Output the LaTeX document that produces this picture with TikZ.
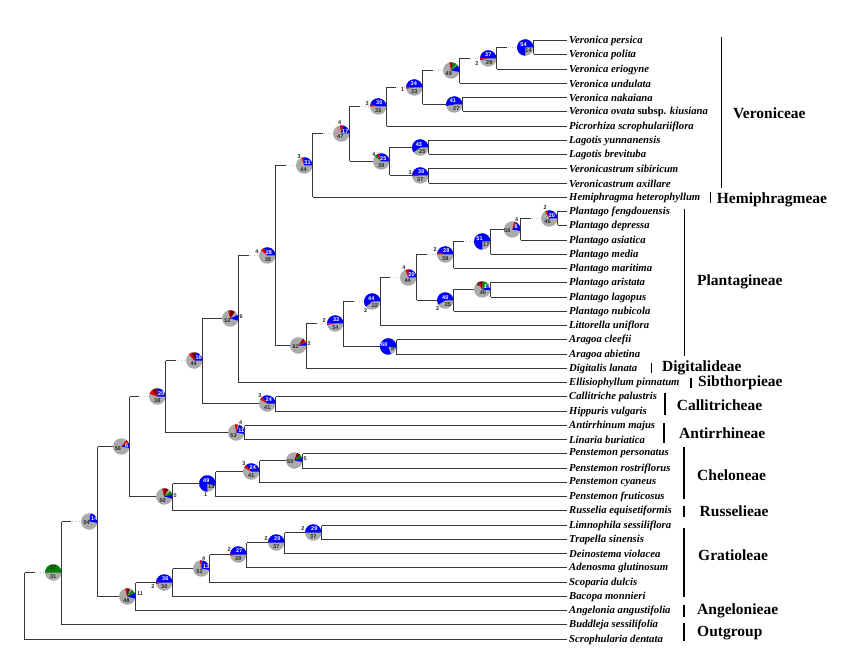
\documentclass[tikz,border=0pt]{standalone}
\usepackage{fontspec}
\setmainfont{Liberation Serif}
\newfontfamily\numfont{Liberation Sans}
\usetikzlibrary{calc}
\definecolor{pblue}{RGB}{0,0,255}
\definecolor{pgray}{RGB}{170,170,170}
\definecolor{pred}{RGB}{225,0,0}
\definecolor{pdred}{RGB}{120,0,0}
\definecolor{pgreen}{RGB}{0,128,0}
\definecolor{plime}{RGB}{40,190,40}
\definecolor{linec}{RGB}{55,55,55}
\tikzset{
 branch/.style={draw=linec, line width=1.4pt},
 dotline/.style={draw=gray!50, line width=1.3pt, dash pattern=on 1.2pt off 2.4pt},
 pienode/.style={circle, fill=pgray, minimum size=16.5pt, inner sep=0pt, outer sep=0pt},
 leaf/.style={anchor=west, inner sep=0pt, font=\fontsize{10.7}{12}\selectfont\bfseries\itshape},
 clade/.style={anchor=west, inner sep=0pt, font=\fontsize{15.5}{17}\selectfont\bfseries},
 cbar/.style={draw=black, line width=1.5pt},
 wnum/.style={inner sep=0pt, text=white, font=\numfont\fontsize{5.5}{6}\selectfont\bfseries},
 gnum/.style={inner sep=0pt, text=black!85, font=\numfont\fontsize{5.5}{6}\selectfont\bfseries},
}
\newcommand\treenode[3]{\coordinate (#1) at (#2,#3); \node[pienode] (#1p) at (#2-8.25,#3) {};}
\newcommand\psect[4]{\fill[#2] (#1p.center) -- ++(#3:8.25pt) arc[start angle=#3, end angle=#4, radius=8.25pt] -- cycle;}
\newcommand\pielabel[5]{\node[#2] (#1-#5) at ($(#1p.center)+(#3,#4)$) {#5};}
\newcommand\sedge[2]{\draw[branch] (#1 |- #2p) -- (#2p.west);}
\newcommand\dedge[2]{\draw[branch] (#1 |- #2p) -- ($(#2p.west)+(-10,0)$); \draw[dotline] ($(#2p.west)+(-9,0)$) -- (#2p.west);}
\newcommand\ledge[2]{\draw[branch] (#1 |- #2) -- ($(#2.west)+(-2.5,0)$);}
\newcommand\treevert[3]{\draw[branch] (#1 |- #2) -- (#1 |- #3);}
\begin{document}
\begin{tikzpicture}[x=1pt,y=-1pt]
\fill[white] (0,0) rectangle (862,652);
\useasboundingbox (0,0) rectangle (862,652);
% leaves
\node[leaf] (t0) at (569,40.5) {Veronica persica};
\node[leaf] (t1) at (569,54.5) {Veronica polita};
\node[leaf] (t2) at (569,69.5) {Veronica eriogyne};
\node[leaf] (t3) at (569,83.5) {Veronica undulata};
\node[leaf] (t4) at (569,97.5) {Veronica nakaiana};
\node[leaf] (t5) at (569,111.5) {Veronica ovata {\upshape subsp.} kiusiana};
\node[leaf] (t6) at (569,126.5) {Picrorhiza scrophulariiflora};
\node[leaf] (t7) at (569,140.5) {Lagotis yunnanensis};
\node[leaf] (t8) at (569,154.5) {Lagotis brevituba};
\node[leaf] (t9) at (569,168.5) {Veronicastrum sibiricum};
\node[leaf] (t10) at (569,183.5) {Veronicastrum axillare};
\node[leaf] (t11) at (569,197.5) {Hemiphragma heterophyllum};
\node[leaf] (t12) at (569,211.5) {Plantago fengdouensis};
\node[leaf] (t13) at (569,225.5) {Plantago depressa};
\node[leaf] (t14) at (569,240.5) {Plantago asiatica};
\node[leaf] (t15) at (569,254.5) {Plantago media};
\node[leaf] (t16) at (569,268.5) {Plantago maritima};
\node[leaf] (t17) at (569,282.5) {Plantago aristata};
\node[leaf] (t18) at (569,297.5) {Plantago lagopus};
\node[leaf] (t19) at (569,311.5) {Plantago nubicola};
\node[leaf] (t20) at (569,325.5) {Littorella uniflora};
\node[leaf] (t21) at (569,339.5) {Aragoa cleefii};
\node[leaf] (t22) at (569,354.5) {Aragoa abietina};
\node[leaf] (t23) at (569,368.5) {Digitalis lanata};
\node[leaf] (t24) at (569,382.5) {Ellisiophyllum pinnatum};
\node[leaf] (t25) at (569,396.5) {Callitriche palustris};
\node[leaf] (t26) at (569,411.5) {Hippuris vulgaris};
\node[leaf] (t27) at (569,425.5) {Antirrhinum majus};
\node[leaf] (t28) at (569,439.5) {Linaria buriatica};
\node[leaf] (t29) at (569,453.5) {Penstemon personatus};
\node[leaf] (t30) at (569,468.5) {Penstemon rostriflorus};
\node[leaf] (t31) at (569,482.5) {Penstemon cyaneus};
\node[leaf] (t32) at (569,496.5) {Penstemon fruticosus};
\node[leaf] (t33) at (569,510.5) {Russelia equisetiformis};
\node[leaf] (t34) at (569,525.5) {Limnophila sessiliflora};
\node[leaf] (t35) at (569,539.5) {Trapella sinensis};
\node[leaf] (t36) at (569,553.5) {Deinostema violacea};
\node[leaf] (t37) at (569,567.5) {Adenosma glutinosum};
\node[leaf] (t38) at (569,582.5) {Scoparia dulcis};
\node[leaf] (t39) at (569,596.5) {Bacopa monnieri};
\node[leaf] (t40) at (569,610.5) {Angelonia angustifolia};
\node[leaf] (t41) at (569,624.5) {Buddleja sessilifolia};
\node[leaf] (t42) at (569,639.5) {Scrophularia dentata};
% internal nodes
\treenode{A}{533.5}{47.5}
\treenode{B}{496.5}{58.5}
\treenode{C}{459.5}{70.5}
\treenode{D}{462.5}{104.5}
\treenode{E}{422.5}{87.5}
\treenode{F}{386.5}{106.5}
\treenode{G}{428.5}{147.5}
\treenode{H}{428.5}{175.5}
\treenode{I}{389.5}{161.5}
\treenode{J}{349.5}{133.5}
\treenode{K}{312.5}{165.5}
\treenode{W}{557.5}{218.5}
\treenode{V}{520.5}{229.5}
\treenode{T}{490.5}{241.5}
\treenode{R}{453.5}{254.5}
\treenode{U}{490.5}{289.5}
\treenode{S}{453.5}{300.5}
\treenode{Q}{416.5}{277.5}
\treenode{O}{380.5}{301.5}
\treenode{P}{396.5}{346.5}
\treenode{N}{343.5}{323.5}
\treenode{M}{306.5}{345.5}
\treenode{L}{275.5}{255.5}
\treenode{X}{238.5}{318.5}
\treenode{Y}{275.5}{403.5}
\treenode{Z}{202.5}{360.5}
\treenode{AB}{244.5}{432.5}
\treenode{AA}{165.5}{396.5}
\treenode{AG}{302.5}{460.5}
\treenode{AF}{259.5}{471.5}
\treenode{AE}{215.5}{483.5}
\treenode{AD}{172.5}{496.5}
\treenode{AC}{129.5}{446.5}
\treenode{AO}{321.5}{532.5}
\treenode{AN}{284.5}{542.5}
\treenode{AM}{246.5}{554.5}
\treenode{AL}{209.5}{568.5}
\treenode{AK}{172.5}{582.5}
\treenode{AI}{135.5}{596.5}
\treenode{AH}{97.5}{521.5}
\treenode{AJ}{61.5}{572.5}
\coordinate (root) at (24.5,600);
% verticals
\treevert{A}{t0}{t1}
\treevert{B}{A}{t2}
\treevert{C}{B}{t3}
\treevert{D}{t4}{t5}
\treevert{E}{C}{D}
\treevert{F}{E}{t6}
\treevert{G}{t7}{t8}
\treevert{H}{t9}{t10}
\treevert{I}{G}{H}
\treevert{J}{F}{I}
\treevert{K}{J}{t11}
\treevert{W}{t12}{t13}
\treevert{V}{W}{t14}
\treevert{T}{V}{t15}
\treevert{R}{T}{t16}
\treevert{U}{t17}{t18}
\treevert{S}{U}{t19}
\treevert{Q}{R}{S}
\treevert{O}{Q}{t20}
\treevert{P}{t21}{t22}
\treevert{N}{O}{P}
\treevert{M}{N}{t23}
\treevert{L}{K}{M}
\treevert{X}{L}{t24}
\treevert{Y}{t25}{t26}
\treevert{Z}{X}{Y}
\treevert{AB}{t27}{t28}
\treevert{AA}{Z}{AB}
\treevert{AG}{t29}{t30}
\treevert{AF}{AG}{t31}
\treevert{AE}{AF}{t32}
\treevert{AD}{AE}{t33}
\treevert{AC}{AA}{AD}
\treevert{AO}{t34}{t35}
\treevert{AN}{AO}{t36}
\treevert{AM}{AN}{t37}
\treevert{AL}{AM}{t38}
\treevert{AK}{AL}{t39}
\treevert{AI}{AK}{t40}
\treevert{AH}{AC}{AI}
\treevert{AJ}{AH}{t41}
\treevert{root}{AJ}{t42}
% internal edges
\dedge{B}{A} \dedge{C}{B} \dedge{E}{C} \sedge{E}{D} \dedge{F}{E} \dedge{J}{F}
\sedge{I}{G} \sedge{I}{H} \sedge{J}{I} \dedge{K}{J} \dedge{L}{K}
\dedge{X}{L} \sedge{L}{M} \dedge{M}{N} \dedge{N}{O} \sedge{N}{P} \dedge{O}{Q}
\dedge{Q}{R} \sedge{Q}{S} \dedge{R}{T} \sedge{S}{U} \sedge{T}{V} \dedge{V}{W}
\sedge{Z}{X} \sedge{Z}{Y} \dedge{AA}{Z} \sedge{AA}{AB} \dedge{AC}{AA}
\sedge{AC}{AD} \sedge{AD}{AE} \sedge{AE}{AF} \sedge{AF}{AG}
\sedge{AH}{AC} \sedge{AH}{AI} \dedge{AJ}{AH} \sedge{AI}{AK} \sedge{AK}{AL}
\sedge{AL}{AM} \sedge{AM}{AN} \sedge{AN}{AO} \dedge{root}{AJ}
% leaf edges
\ledge{A}{t0} \ledge{A}{t1} \ledge{B}{t2} \ledge{C}{t3} \ledge{D}{t4} \ledge{D}{t5}
\ledge{F}{t6} \ledge{G}{t7} \ledge{G}{t8} \ledge{H}{t9} \ledge{H}{t10} \ledge{K}{t11}
\ledge{W}{t12} \ledge{W}{t13} \ledge{V}{t14} \ledge{T}{t15} \ledge{R}{t16}
\ledge{U}{t17} \ledge{U}{t18} \ledge{S}{t19} \ledge{O}{t20} \ledge{P}{t21} \ledge{P}{t22}
\ledge{M}{t23} \ledge{X}{t24} \ledge{Y}{t25} \ledge{Y}{t26} \ledge{AB}{t27} \ledge{AB}{t28}
\ledge{AG}{t29} \ledge{AG}{t30} \ledge{AF}{t31} \ledge{AE}{t32} \ledge{AD}{t33}
\ledge{AO}{t34} \ledge{AO}{t35} \ledge{AN}{t36} \ledge{AM}{t37} \ledge{AL}{t38}
\ledge{AK}{t39} \ledge{AI}{t40} \ledge{AJ}{t41} \ledge{root}{t42}
% pie sectors
\psect{A}{pblue}{0}{270}
\psect{B}{pblue}{0}{180} \psect{B}{pred}{180}{192}
\psect{C}{pblue}{-10}{40} \psect{C}{plime}{40}{55} \psect{C}{pgreen}{55}{82} \psect{C}{pdred}{82}{92} \psect{C}{pred}{92}{105}
\psect{D}{pblue}{0}{190}
\psect{E}{pblue}{0}{180} \psect{E}{pred}{180}{188}
\psect{F}{pblue}{0}{165} \psect{F}{pred}{165}{180}
\psect{G}{pblue}{0}{215}
\psect{H}{pblue}{0}{175} \psect{H}{pred}{175}{185}
\psect{I}{pblue}{0}{110} \psect{I}{pred}{110}{125} \psect{I}{pgreen}{125}{140}
\psect{J}{pblue}{0}{75} \psect{J}{pred}{75}{100}
\psect{K}{pblue}{0}{95} \psect{K}{pred}{95}{110}
\psect{L}{pblue}{0}{115} \psect{L}{pred}{115}{140}
\psect{M}{pblue}{0}{20} \psect{M}{pred}{20}{40} \psect{M}{pdred}{40}{55}
\psect{N}{pblue}{0}{180} \psect{N}{pred}{180}{190}
\psect{O}{pblue}{0}{220}
\psect{P}{pblue}{-10}{290}
\psect{Q}{pblue}{0}{85} \psect{Q}{pred}{85}{110}
\psect{R}{pblue}{0}{165} \psect{R}{pred}{165}{180}
\psect{S}{pblue}{0}{210}
\psect{T}{pblue}{0}{270}
\psect{U}{pblue}{-5}{40} \psect{U}{plime}{40}{60} \psect{U}{pgreen}{60}{90} \psect{U}{pdred}{90}{110} \psect{U}{pred}{110}{125}
\psect{V}{pblue}{-10}{60} \psect{V}{pred}{60}{75}
\psect{W}{pblue}{0}{105} \psect{W}{pred}{105}{120}
\psect{X}{pblue}{-15}{25} \psect{X}{pdred}{55}{95} \psect{X}{pred}{95}{105}
\psect{Z}{pblue}{0}{80} \psect{Z}{pdred}{80}{110} \psect{Z}{pred}{110}{130}
\psect{Y}{pblue}{0}{130} \psect{Y}{pred}{130}{150}
\psect{AA}{pblue}{0}{90} \psect{AA}{pdred}{90}{130} \psect{AA}{pred}{130}{160}
\psect{AB}{pblue}{-10}{70} \psect{AB}{pred}{80}{100}
\psect{AC}{pblue}{-10}{25} \psect{AC}{pred}{25}{50}
\psect{AD}{pblue}{-15}{15} \psect{AD}{pgreen}{15}{40} \psect{AD}{pdred}{60}{95} \psect{AD}{pred}{95}{105}
\psect{AE}{pblue}{-15}{270}
\psect{AF}{pblue}{0}{130} \psect{AF}{pred}{130}{150}
\psect{AG}{pblue}{-10}{20} \psect{AG}{pgreen}{20}{45} \psect{AG}{pdred}{45}{70}
\psect{AH}{pblue}{-10}{80}
\psect{AI}{pblue}{-15}{25} \psect{AI}{pgreen}{25}{55} \psect{AI}{pdred}{70}{95} \psect{AI}{pred}{95}{105}
\psect{AJ}{pgreen}{0}{180}
\psect{AK}{pblue}{0}{180} \psect{AK}{pred}{180}{190}
\psect{AL}{pblue}{-10}{80} \psect{AL}{pred}{85}{100}
\psect{AM}{pblue}{0}{180} \psect{AM}{pred}{180}{188}
\psect{AN}{pblue}{0}{180}
\psect{AO}{pblue}{0}{180}
% pie labels
\pielabel{A}{wnum}{-1.7}{-3.3}{54} \pielabel{A}{gnum}{3.3}{3.2}{14}
\pielabel{B}{wnum}{0}{-4}{37} \pielabel{B}{gnum}{1}{4.3}{29} \pielabel{B}{gnum}{-11.3}{4.7}{2}
\pielabel{C}{gnum}{-2.5}{2.7}{49}
\pielabel{D}{wnum}{-1.3}{-4}{41} \pielabel{D}{gnum}{2}{4}{27}
\pielabel{E}{wnum}{-0.5}{-4}{34} \pielabel{E}{gnum}{0}{4}{33} \pielabel{E}{gnum}{-11.7}{2.3}{1}
\pielabel{F}{wnum}{1}{-4}{30} \pielabel{F}{gnum}{0}{4}{35} \pielabel{F}{gnum}{-11}{-3.3}{3}
\pielabel{G}{wnum}{-1.4}{-3.3}{43} \pielabel{G}{gnum}{2}{4.6}{25}
\pielabel{H}{wnum}{1}{-4}{30} \pielabel{H}{gnum}{0}{4}{37} \pielabel{H}{gnum}{-10}{-3.3}{1}
\pielabel{I}{wnum}{2}{-2.7}{25} \pielabel{I}{gnum}{0}{4.3}{39} \pielabel{I}{gnum}{-7.4}{-6.7}{4}
\pielabel{J}{wnum}{4}{-2.3}{17} \pielabel{J}{gnum}{-1}{3.4}{47} \pielabel{J}{gnum}{-1.7}{-10.6}{4}
\pielabel{K}{wnum}{3.3}{-2.6}{31} \pielabel{K}{gnum}{-0.7}{4}{44} \pielabel{K}{gnum}{-5}{-9.3}{3}
\pielabel{L}{wnum}{1.6}{-3.3}{28} \pielabel{L}{gnum}{0.6}{4}{38} \pielabel{L}{gnum}{-10.4}{-3.6}{4}
\pielabel{M}{gnum}{-2.6}{0.7}{61} \pielabel{M}{gnum}{11}{-1.7}{2}
\pielabel{N}{wnum}{1}{-4}{32} \pielabel{N}{gnum}{0}{4}{34} \pielabel{N}{gnum}{-11}{-3.3}{2}
\pielabel{O}{wnum}{-1}{-3}{44} \pielabel{O}{gnum}{2.6}{4.3}{22} \pielabel{O}{gnum}{-6.7}{9.3}{2}
\pielabel{P}{wnum}{-4}{-2}{60} \pielabel{P}{gnum}{4.4}{1.7}{8}
\pielabel{Q}{wnum}{3.4}{-3.3}{20} \pielabel{Q}{gnum}{-0.6}{2.7}{44} \pielabel{Q}{gnum}{-4.3}{-10}{4}
\pielabel{R}{wnum}{1}{-4}{28} \pielabel{R}{gnum}{0}{4}{38} \pielabel{R}{gnum}{-10}{-5}{2}
\pielabel{S}{wnum}{0}{-3}{40} \pielabel{S}{gnum}{2.7}{4.3}{25} \pielabel{S}{gnum}{-7.7}{8.3}{2}
\pielabel{T}{wnum}{-2.7}{-2.4}{51} \pielabel{T}{gnum}{4}{3.3}{17}
\pielabel{U}{wnum}{5}{-2.6}{14} \pielabel{U}{gnum}{0.6}{3.4}{40} \pielabel{U}{gnum}{-4}{-5}{4}
\pielabel{V}{gnum}{-5}{0.7}{56} \pielabel{V}{wnum}{4}{-2.6}{6} \pielabel{V}{gnum}{4.3}{-10}{4}
\pielabel{W}{wnum}{2.7}{-3.3}{20} \pielabel{W}{gnum}{-1.7}{2.7}{46} \pielabel{W}{gnum}{-4}{-11}{2}
\pielabel{X}{gnum}{-2.7}{2.4}{52} \pielabel{X}{gnum}{11}{-2.3}{6}
\pielabel{Z}{wnum}{4.4}{-2.4}{16} \pielabel{Z}{gnum}{-0.6}{3.3}{44}
\pielabel{Y}{wnum}{1.5}{-3.5}{24} \pielabel{Y}{gnum}{0}{4}{41} \pielabel{Y}{gnum}{-7.3}{-7.7}{3}
\pielabel{AA}{wnum}{4}{-2.7}{20} \pielabel{AA}{gnum}{0}{4}{38}
\pielabel{AB}{gnum}{-2.7}{3.3}{53} \pielabel{AB}{wnum}{5}{-1.7}{11} \pielabel{AB}{gnum}{4.3}{-10}{4}
\pielabel{AC}{gnum}{-3.3}{2.3}{56} \pielabel{AC}{wnum}{5.5}{-1}{6}
\pielabel{AD}{gnum}{-1.6}{4}{50} \pielabel{AD}{gnum}{11}{-1}{5}
\pielabel{AE}{wnum}{-1}{-3.3}{49} \pielabel{AE}{gnum}{4}{3.4}{18} \pielabel{AE}{gnum}{-1.7}{10.7}{1}
\pielabel{AF}{wnum}{1.5}{-3.5}{24} \pielabel{AF}{gnum}{0}{4}{41} \pielabel{AF}{gnum}{-7.4}{-7.8}{3}
\pielabel{AG}{gnum}{-4}{1}{55} \pielabel{AG}{gnum}{11}{-1.7}{5}
\pielabel{AH}{gnum}{-2.6}{1.6}{54} \pielabel{AH}{wnum}{5}{-2.7}{14}
\pielabel{AI}{gnum}{-0.7}{4}{48} \pielabel{AI}{gnum}{12.7}{-3.3}{11}
\pielabel{AJ}{gnum}{0}{-4.4}{37} \pielabel{AJ}{gnum}{0}{4}{31}
\pielabel{AK}{wnum}{1}{-4}{36} \pielabel{AK}{gnum}{0}{4}{30} \pielabel{AK}{gnum}{-11.3}{4}{2}
\pielabel{AL}{gnum}{-1.7}{3}{52} \pielabel{AL}{wnum}{5}{-2}{13} \pielabel{AL}{gnum}{2.3}{-10}{4}
\pielabel{AM}{wnum}{1}{-4}{27} \pielabel{AM}{gnum}{0}{4}{39} \pielabel{AM}{gnum}{-9}{-4.7}{2}
\pielabel{AN}{wnum}{1}{-4}{29} \pielabel{AN}{gnum}{0}{4}{37} \pielabel{AN}{gnum}{-10}{-4.4}{2}
\pielabel{AO}{wnum}{1}{-4}{29} \pielabel{AO}{gnum}{0}{4}{37} \pielabel{AO}{gnum}{-10.4}{-3.7}{2}
% clade bars and names
\draw[cbar] (721.7,36.7) -- (721.7,188);
\node[clade] (c1) at (733,113) {Veroniceae};
\draw[cbar] (710.7,192) -- (710.7,203);
\node[clade] (c2) at (716.7,199.5) {Hemiphragmeae};
\draw[cbar] (684.3,209) -- (684.3,356);
\node[clade] (c3) at (697,282) {Plantagineae};
\draw[cbar] (651.7,363) -- (651.7,373);
\node[clade] (c4) at (662,368) {Digitalideae};
\draw[cbar] (691,378) -- (691,388);
\node[clade] (c5) at (698,383) {Sibthorpieae};
\draw[cbar] (665,393) -- (665,415);
\node[clade] (c6) at (676.7,405) {Callitricheae};
\draw[cbar] (664,423) -- (664,443);
\node[clade] (c7) at (679,433) {Antirrhineae};
\draw[cbar] (684,447) -- (684,499);
\node[clade] (c8) at (697,475.5) {Cheloneae};
\draw[cbar] (684,506) -- (684,517);
\node[clade] (c9) at (699.5,511.5) {Russelieae};
\draw[cbar] (684,528) -- (684,597);
\node[clade] (c10) at (698,555) {Gratioleae};
\draw[cbar] (684,605) -- (684,617);
\node[clade] (c11) at (697,611) {Angelonieae};
\draw[cbar] (684,623) -- (684,641);
\node[clade] (c12) at (697,632.7) {Outgroup};
\end{tikzpicture}
\end{document}
